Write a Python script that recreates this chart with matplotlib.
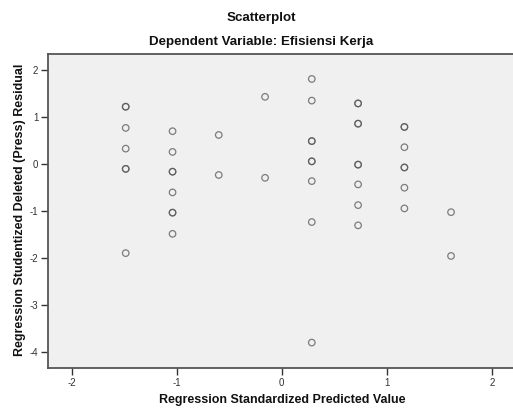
import matplotlib
matplotlib.use("Agg")
import matplotlib.pyplot as plt

# Regression standardized predicted value (x) and studentized deleted residual (y)
pred = [-1.486, -1.486, -1.486, -1.486, -1.486, -1.486, -1.486,
        -1.04, -1.04, -1.04, -1.04, -1.04, -1.04, -1.04, -1.04,
        -0.60, -0.60,
        -0.159, -0.159,
        0.286, 0.286, 0.286, 0.286, 0.286, 0.286, 0.286, 0.286, 0.286,
        0.727, 0.727, 0.727, 0.727, 0.727, 0.727, 0.727, 0.727, 0.727,
        1.168, 1.168, 1.168, 1.168, 1.168, 1.168, 1.168,
        1.612, 1.612]
resid = [1.22, 1.22, 0.77, 0.33, -0.10, -0.10, -1.89,
         0.70, 0.26, -0.16, -0.16, -0.60, -1.03, -1.03, -1.48,
         0.62, -0.23,
         1.43, -0.29,
         1.81, 1.35, 0.49, 0.49, 0.06, 0.06, -0.36, -1.23, -3.79,
         1.29, 1.29, 0.86, 0.86, -0.01, -0.01, -0.43, -0.87, -1.30,
         0.79, 0.79, 0.36, -0.07, -0.07, -0.50, -0.94,
         -1.02, -1.95]

xticks = [-2, -1, 0, 1, 2]
yticks = [2, 1, 0, -1, -2, -3, -4]

plt.rcParams['font.family'] = ['Liberation Sans', 'DejaVu Sans']

W, H = 513, 408
fig = plt.figure(figsize=(W / 100, H / 100), dpi=100)
fig.patch.set_facecolor('white')

left, right, top, bottom = 48, 515.5, 54, 368
ax = fig.add_axes([left / W, (H - bottom) / H, (right - left) / W, (bottom - top) / H])
ax.set_facecolor('#f0f0f0')

ax.scatter(pred, resid, s=22, facecolors='none', edgecolors='#555555',
           linewidths=0.9, alpha=0.75, zorder=3)

ax.set_xlim(-2.226, 2.226)
ax.set_ylim(-4.33, 2.34)
ax.set_xticks(xticks)
ax.set_yticks(yticks)
ax.set_xticklabels([str(t) for t in xticks])
ax.set_yticklabels([str(t) for t in yticks])

for sp in ax.spines.values():
    sp.set_color('#555555')
    sp.set_linewidth(1.3)

ax.tick_params(axis='both', direction='out', length=5, width=1.0, color='#333333',
               labelsize=7, labelcolor='#333333', pad=2)

fig.text(282 / W, 1 - 400 / H, 'Regression Standardized Predicted Value', ha='center',
         va='center', fontsize=9, fontweight='bold', color='#111111')
fig.text(20 / W, 1 - 210 / H, 'Regression Studentized Deleted (Press) Residual',
         ha='center', va='center', rotation=90, fontsize=9, fontweight='bold',
         color='#111111')

fig.text(261 / W, 1 - 18 / H, 'Scatterplot', ha='center', va='center',
         fontsize=9.6, fontweight='bold', color='#111111')
fig.text(261.5 / W, 1 - 42 / H, 'Dependent Variable: Efisiensi Kerja', ha='center',
         va='center', fontsize=9.6, fontweight='bold', color='#111111')

fig.savefig('out.png', dpi=100, facecolor='white')
